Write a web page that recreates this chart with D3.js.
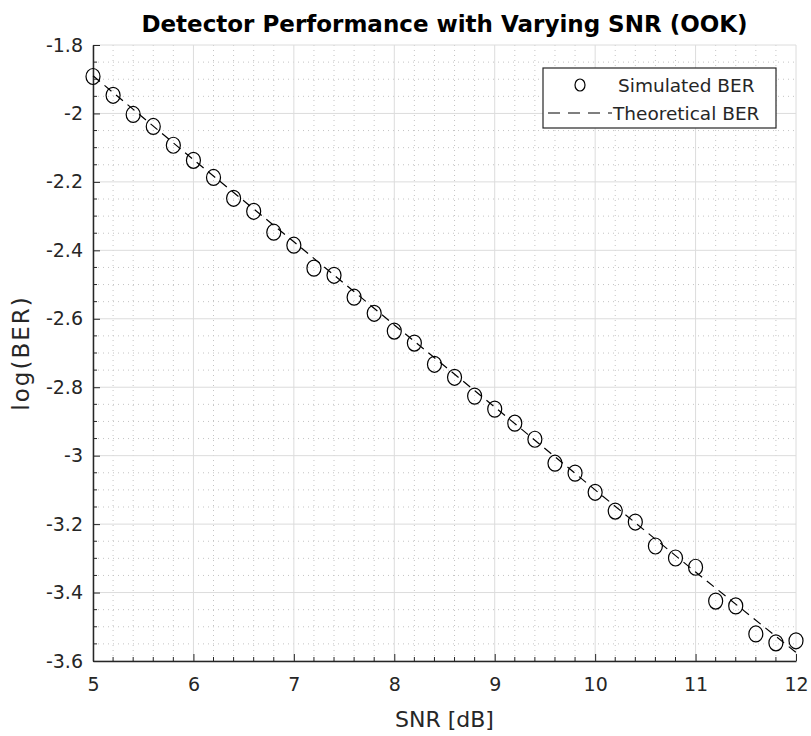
<!DOCTYPE html>
<html>
<head>
<meta charset="utf-8">
<script src="https://cdn.jsdelivr.net/npm/d3@7"></script>
<style>
  body { margin: 0; background: #fff; }
  svg text { font-family: "DejaVu Sans", sans-serif; }
</style>
</head>
<body>
<div id="chart"></div>
<script>
// simulated BER points
const snrValues = [5, 5.2, 5.4, 5.6, 5.8, 6, 6.2, 6.4, 6.6, 6.8, 7, 7.2, 7.4, 7.6, 7.8, 8, 8.2, 8.4, 8.6, 8.8,
  9, 9.2, 9.4, 9.6, 9.8, 10, 10.2, 10.4, 10.6, 10.8, 11, 11.2, 11.4, 11.6, 11.8, 12];
const simulatedBER = [-1.892, -1.947, -2.003, -2.038, -2.093, -2.137, -2.187, -2.248, -2.286, -2.347,
  -2.385, -2.452, -2.473, -2.537, -2.584, -2.636, -2.671, -2.733, -2.771, -2.826,
  -2.864, -2.905, -2.952, -3.022, -3.051, -3.107, -3.162, -3.194, -3.264, -3.299,
  -3.326, -3.425, -3.439, -3.521, -3.547, -3.541];

// theoretical curve
const theorySNR = [5, 6, 7, 8, 9, 10, 11, 12];
const theoreticalBER = [-1.89, -2.135, -2.375, -2.618, -2.858, -3.1, -3.34, -3.575];

const xTicks = [5, 6, 7, 8, 9, 10, 11, 12];
const yTicks = [-1.8, -2, -2.2, -2.4, -2.6, -2.8, -3, -3.2, -3.4, -3.6];

const W = 811, H = 736;
const margin = { top: 45, right: 15, bottom: 75, left: 93 };
const width = W - margin.left - margin.right;
const height = H - margin.top - margin.bottom;
const axisColor = "#262626";

const svg = d3.select("#chart").append("svg")
  .attr("width", W)
  .attr("height", H);

const g = svg.append("g")
  .attr("transform", `translate(${margin.left},${margin.top})`);

const x = d3.scaleLinear().domain([5, 12]).range([0, width]);
const y = d3.scaleLinear().domain([-3.6, -1.8]).range([height, 0]);

// minor grid (dotted)
const xMinor = d3.range(50, 121, 2).map(d => d / 10).filter(d => !xTicks.includes(d));
const yMinor = d3.range(-360, -179, 5).map(d => d / 100).filter(d => !yTicks.some(t => Math.abs(t - d) < 1e-6));

g.append("g").selectAll("line")
  .data(xMinor)
  .enter().append("line")
  .attr("x1", d => x(d)).attr("x2", d => x(d))
  .attr("y1", 0).attr("y2", height)
  .attr("stroke", "#c4c4c4")
  .attr("stroke-width", 1)
  .attr("stroke-dasharray", "1,4");

g.append("g").selectAll("line")
  .data(yMinor)
  .enter().append("line")
  .attr("x1", 0).attr("x2", width)
  .attr("y1", d => y(d)).attr("y2", d => y(d))
  .attr("stroke", "#c4c4c4")
  .attr("stroke-width", 1)
  .attr("stroke-dasharray", "1,4");

// major grid
g.append("g").selectAll("line")
  .data(xTicks)
  .enter().append("line")
  .attr("x1", d => x(d)).attr("x2", d => x(d))
  .attr("y1", 0).attr("y2", height)
  .attr("stroke", "#dcdcdc");

g.append("g").selectAll("line")
  .data(yTicks)
  .enter().append("line")
  .attr("x1", 0).attr("x2", width)
  .attr("y1", d => y(d)).attr("y2", d => y(d))
  .attr("stroke", "#dcdcdc");

// minor ticks on the axes
g.append("g").selectAll("line")
  .data(xMinor)
  .enter().append("line")
  .attr("x1", d => x(d)).attr("x2", d => x(d))
  .attr("y1", height).attr("y2", height - 4)
  .attr("stroke", axisColor);

g.append("g").selectAll("line")
  .data(yMinor)
  .enter().append("line")
  .attr("x1", 0).attr("x2", 4)
  .attr("y1", d => y(d)).attr("y2", d => y(d))
  .attr("stroke", axisColor);

// axes
const xAxis = g.append("g")
  .attr("transform", `translate(0,${height})`)
  .call(d3.axisBottom(x).tickValues(xTicks).tickFormat(d3.format("d")).tickSize(-7).tickSizeOuter(0).tickPadding(17));

const yAxis = g.append("g")
  .call(d3.axisLeft(y).tickValues(yTicks).tickFormat(d => String(d)).tickSize(-7).tickSizeOuter(0).tickPadding(10));

[xAxis, yAxis].forEach(a => {
  a.select(".domain").attr("stroke", axisColor).attr("stroke-width", 1.5);
  a.selectAll(".tick line").attr("stroke", axisColor);
  a.selectAll(".tick text").attr("fill", axisColor).style("font-size", "19px").style("font-family", "DejaVu Sans, sans-serif");
});

// theoretical dashed line
const line = d3.line().x(d => x(d[0])).y(d => y(d[1]));
g.append("path")
  .datum(theorySNR.map((s, i) => [s, theoreticalBER[i]]))
  .attr("fill", "none")
  .attr("stroke", "#000")
  .attr("stroke-width", 1.2)
  .attr("stroke-dasharray", "9,6")
  .attr("d", line);

// simulated markers
g.append("g").selectAll("ellipse")
  .data(snrValues.map((s, i) => [s, simulatedBER[i]]))
  .enter().append("ellipse")
  .attr("cx", d => x(d[0]))
  .attr("cy", d => y(d[1]))
  .attr("rx", 7)
  .attr("ry", 8)
  .attr("fill", "none")
  .attr("stroke", "#000")
  .attr("stroke-width", 1.2);

// title and labels
svg.append("text")
  .attr("x", margin.left + width / 2)
  .attr("y", 32)
  .attr("text-anchor", "middle")
  .style("font-size", "23px")
  .style("font-weight", "bold")
  .attr("fill", "#000")
  .text("Detector Performance with Varying SNR (OOK)");

svg.append("text")
  .attr("x", margin.left + width / 2)
  .attr("y", 727)
  .attr("text-anchor", "middle")
  .style("font-size", "22px")
  .attr("fill", axisColor)
  .text("SNR [dB]");

svg.append("text")
  .attr("transform", `translate(29,${margin.top + height / 2}) rotate(-90)`)
  .attr("text-anchor", "middle")
  .style("font-size", "23px")
  .style("letter-spacing", "2px")
  .attr("fill", axisColor)
  .text("log(BER)");

// legend
const legend = svg.append("g").attr("transform", "translate(543,68)");
legend.append("rect")
  .attr("width", 233).attr("height", 60)
  .attr("fill", "#fff")
  .attr("stroke", axisColor)
  .attr("stroke-width", 1.2);
legend.append("ellipse")
  .attr("cx", 37).attr("cy", 17)
  .attr("rx", 5).attr("ry", 6)
  .attr("fill", "none").attr("stroke", "#000").attr("stroke-width", 1.2);
legend.append("text")
  .attr("x", 75).attr("y", 24)
  .style("font-size", "18.5px").attr("fill", axisColor)
  .text("Simulated BER");
legend.append("line")
  .attr("x1", 5).attr("x2", 69).attr("y1", 45).attr("y2", 45)
  .attr("stroke", "#000").attr("stroke-width", 1.2).attr("stroke-dasharray", "12,8");
legend.append("text")
  .attr("x", 70).attr("y", 52)
  .style("font-size", "18.5px").attr("fill", axisColor)
  .text("Theoretical BER");
</script>
</body>
</html>
